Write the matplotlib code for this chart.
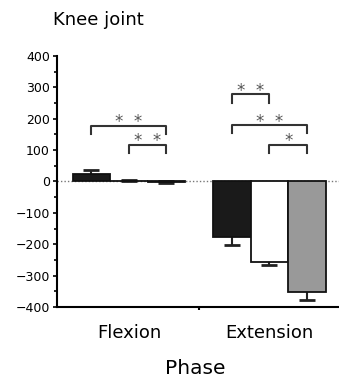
import matplotlib
matplotlib.use('Agg')
import matplotlib.pyplot as plt
from matplotlib.ticker import MultipleLocator, FixedLocator
import numpy as np

# Data
phases = ['Flexion', 'Extension']
black_vals = [24, -178]
black_err = [13, 24]
white_vals = [3, -257]
white_err = [2, 9]
gray_vals = [-2, -351]
gray_err = [2, 26]

# significance brackets: (phase index, bar a, bar b, height, stars)
brackets = [
    (0, 0, 2, 177, '*  *'),
    (0, 1, 2, 117, '*  *'),
    (1, 0, 1, 277, '*  *'),
    (1, 0, 2, 180, '*  *'),
    (1, 1, 2, 117, '*'),
]

plt.rcParams['font.family'] = ['DejaVu Sans']

fig = plt.figure(figsize=(3.39, 3.80), dpi=100)
ax = fig.add_axes([0.168, 0.192, 0.832, 0.661])

x = np.arange(len(phases))
w = 0.267
series = [
    (black_vals, black_err, '#1a1a1a'),
    (white_vals, white_err, 'white'),
    (gray_vals, gray_err, '#999999'),
]
for k, (vals, errs, col) in enumerate(series):
    pos = x + (k - 1) * w
    ax.errorbar(pos, vals, yerr=errs, fmt='none', ecolor='#222222',
                elinewidth=1.5, capsize=6, capthick=2, zorder=2)
    ax.bar(pos, vals, width=w, color=col, edgecolor='#111111',
           linewidth=1.3, zorder=3)

# dotted zero line
ax.axhline(0, color='#777777', linestyle=(0, (1, 1.5)), linewidth=1, zorder=1)

# Significance brackets
leg = 27
for g, a, b, h, s in brackets:
    xa = x[g] + (a - 1) * w
    xb = x[g] + (b - 1) * w
    ax.plot([xa, xa, xb, xb], [h - leg, h, h, h - leg], color='#333333', lw=1.5)
    ax.text((xa + xb) / 2, h - 5, s, ha='center', va='baseline',
            fontsize=12, color='#555555')

# Axes styling
ax.set_ylim(-400, 400)
ax.set_xlim(-0.512, 1.495)
ax.yaxis.set_major_locator(MultipleLocator(100))
ax.yaxis.set_minor_locator(MultipleLocator(50))
ax.tick_params(axis='y', which='major', labelsize=9, length=3, width=1.2, pad=2)
ax.tick_params(axis='y', which='minor', length=2, width=1.2)

ax.set_xticks(x)
ax.set_xticklabels(phases, fontsize=13)
ax.xaxis.set_minor_locator(FixedLocator([0.5]))
ax.tick_params(axis='x', which='major', length=0, pad=12)
ax.tick_params(axis='x', which='minor', length=2, width=1.5)

ax.spines['top'].set_visible(False)
ax.spines['right'].set_visible(False)
ax.spines['left'].set_linewidth(1.5)
ax.spines['bottom'].set_linewidth(1.5)

fig.text(53 / 339, 1 - 20 / 380, 'Knee joint', ha='left', va='center', fontsize=13)
fig.text(195 / 339, 1 - 368 / 380, 'Phase', ha='center', va='center', fontsize=14.5)

plt.savefig('out.png', dpi=100)
plt.close(fig)
